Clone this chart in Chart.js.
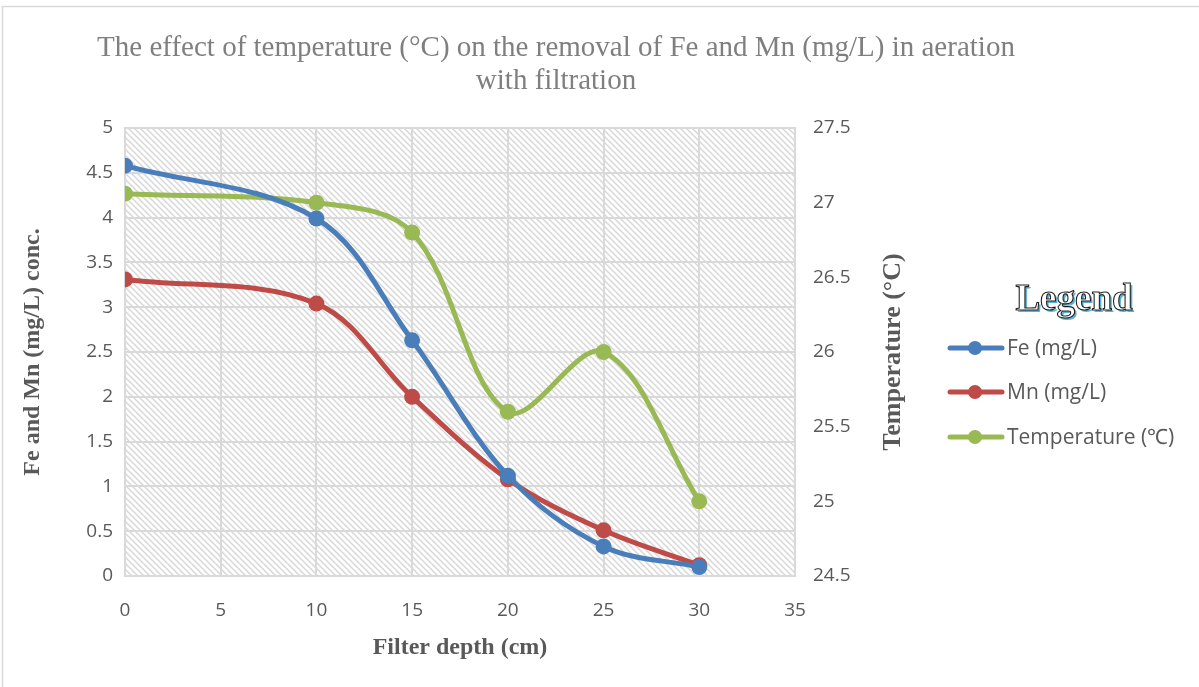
<!DOCTYPE html>
<html>
<head>
<meta charset="utf-8">
<script src="https://cdn.jsdelivr.net/npm/chart.js@4/dist/chart.umd.min.js"></script>
<style>
  html, body { margin: 0; padding: 0; background: #fff; }
  #wrap { width: 1199px; height: 687px; position: relative; }
</style>
</head>
<body>
<div id="wrap"><canvas id="chart" width="1199" height="687"></canvas></div>
<script>
// data
const depth = [0, 10, 15, 20, 25, 30];
const fe = [4.58, 3.99, 2.63, 1.12, 0.33, 0.10];
const mn = [3.31, 3.04, 2.00, 1.08, 0.51, 0.12];
const temperature = [27.06, 27.0, 26.8, 25.6, 26.0, 25.0];

const titleLines = [
  "The effect of temperature (\u00B0C) on the removal of Fe and Mn (mg/L) in aeration",
  "with filtration",
];
const rightTitle = "Temperature (\u00B0C)";

const BLUE = "#4a7ebb";
const RED = "#be4b48";
const GREEN = "#98b954";
const TICK = "#595959";
const SERIF = '"Liberation Serif", "Times New Roman", serif';
const SANS = '"Open Sans", "Liberation Sans", sans-serif';

function toPoints(xs, ys) {
  return xs.map((x, i) => ({ x: x, y: ys[i] }));
}

// diagonal hatch for the plot area
function hatchPattern(ctx) {
  const c = document.createElement("canvas");
  c.width = 6;
  c.height = 6;
  const g = c.getContext("2d");
  g.fillStyle = "#ffffff";
  g.fillRect(0, 0, 6, 6);
  g.strokeStyle = "#d6d6d6";
  g.lineWidth = 1.4;
  g.beginPath();
  g.moveTo(-2, -2); g.lineTo(8, 8);
  g.moveTo(-5, 1); g.lineTo(5, 11);
  g.moveTo(1, -5); g.lineTo(11, 5);
  g.stroke();
  return ctx.createPattern(c, "repeat");
}

const decor = {
  id: "decor",
  beforeDraw(chart) {
    const { ctx, chartArea: a } = chart;
    ctx.save();
    ctx.fillStyle = "#fff";
    ctx.fillRect(0, 0, chart.width, chart.height);
    ctx.strokeStyle = "#d9d9d9";
    ctx.lineWidth = 1.5;
    ctx.strokeRect(2.5, 6.5, chart.width + 10, chart.height + 10);
    ctx.fillStyle = hatchPattern(ctx);
    ctx.fillRect(a.left, a.top, a.right - a.left, a.bottom - a.top);

    // title
    ctx.fillStyle = "#7f7f7f";
    ctx.font = "29px " + SERIF;
    ctx.textAlign = "center";
    ctx.textBaseline = "middle";
    ctx.fillText(titleLines[0], 556, 48);
    ctx.fillText(titleLines[1], 556, 81);
    ctx.restore();
  },
  afterDraw(chart) {
    const { ctx, chartArea: a } = chart;
    ctx.save();
    // right axis title, reading bottom to top
    ctx.translate(893, (a.top + a.bottom) / 2);
    ctx.rotate(-Math.PI / 2);
    ctx.fillStyle = TICK;
    ctx.font = "bold 26px " + SERIF;
    ctx.textAlign = "center";
    ctx.textBaseline = "middle";
    ctx.fillText(rightTitle, 0, 0);
    ctx.restore();

    ctx.save();
    // legend title
    ctx.font = "bold 37px " + SERIF;
    ctx.textAlign = "center";
    ctx.textBaseline = "middle";
    ctx.fillStyle = "#5bb3d4";
    ctx.fillText("Legend", 1076, 302);
    ctx.fillStyle = "#ffffff";
    ctx.fillText("Legend", 1074, 300);
    ctx.strokeStyle = "#1f1f1f";
    ctx.lineWidth = 1.1;
    ctx.strokeText("Legend", 1074, 300);

    // legend items
    const rows = [348, 392, 437];
    chart.data.datasets.forEach((ds, i) => {
      const y = rows[i];
      ctx.strokeStyle = ds.borderColor;
      ctx.lineWidth = 5;
      ctx.lineCap = "round";
      ctx.beginPath();
      ctx.moveTo(950, y);
      ctx.lineTo(1002, y);
      ctx.stroke();
      ctx.fillStyle = ds.borderColor;
      ctx.beginPath();
      ctx.arc(975, y, 7, 0, Math.PI * 2);
      ctx.fill();
      ctx.fillStyle = TICK;
      ctx.font = "21px " + SANS;
      ctx.textAlign = "left";
      ctx.fillText(ds.label, 1007, y + 1);
    });
    ctx.restore();
  },
};

function line(label, data, color, axis) {
  return {
    label: label,
    data: toPoints(depth, data),
    yAxisID: axis,
    borderColor: color,
    backgroundColor: color,
    borderWidth: 5,
    pointRadius: 8,
    pointHoverRadius: 8,
    pointBackgroundColor: color,
    pointBorderWidth: 0,
    tension: 0.35,
    fill: false,
  };
}

const tickFont = { family: SANS, size: 19 };
const serifBold = (size) => ({ family: SERIF, size: size, weight: "bold" });
const plain = (v) => String(Math.round(v * 10) / 10);

new Chart(document.getElementById("chart"), {
  type: "line",
  data: {
    datasets: [
      line("Fe (mg/L)", fe, BLUE, "y"),
      line("Mn (mg/L)", mn, RED, "y"),
      line("Temperature (\u2103)", temperature, GREEN, "y2"),
    ],
  },
  options: {
    responsive: false,
    animation: false,
    devicePixelRatio: 1,
    layout: { padding: { left: 10, right: 296, top: 128, bottom: 21 } },
    plugins: {
      legend: { display: false },
      title: { display: false },
      tooltip: { enabled: false },
    },
    scales: {
      x: {
        type: "linear",
        min: 0,
        max: 35,
        ticks: { stepSize: 5, color: TICK, font: tickFont, padding: 23, callback: plain },
        grid: { color: "#d9d9d9", lineWidth: 2, drawTicks: false },
        border: { color: "#d9d9d9", width: 2 },
        title: { display: true, text: "Filter depth (cm)", color: TICK, font: serifBold(24), padding: { top: 6 } },
        afterFit(s) { s.height = 90; },
      },
      y: {
        position: "left",
        min: 0,
        max: 5,
        ticks: { stepSize: 0.5, color: TICK, font: tickFont, padding: 12, callback: plain },
        grid: { color: "#d9d9d9", lineWidth: 2, drawTicks: false },
        border: { color: "#d9d9d9", width: 2 },
        title: { display: true, text: "Fe and Mn (mg/L) conc.", color: TICK, font: serifBold(24), padding: 8 },
        afterFit(s) { s.width = 115; },
      },
      y2: {
        position: "right",
        min: 24.5,
        max: 27.5,
        ticks: { stepSize: 0.5, color: TICK, font: tickFont, padding: 18, callback: plain },
        grid: { display: false, drawTicks: false },
        border: { color: "#d9d9d9", width: 2 },
        title: { display: false },
        afterFit(s) { s.width = 108; },
      },
    },
  },
  plugins: [decor],
});
</script>
</body>
</html>
